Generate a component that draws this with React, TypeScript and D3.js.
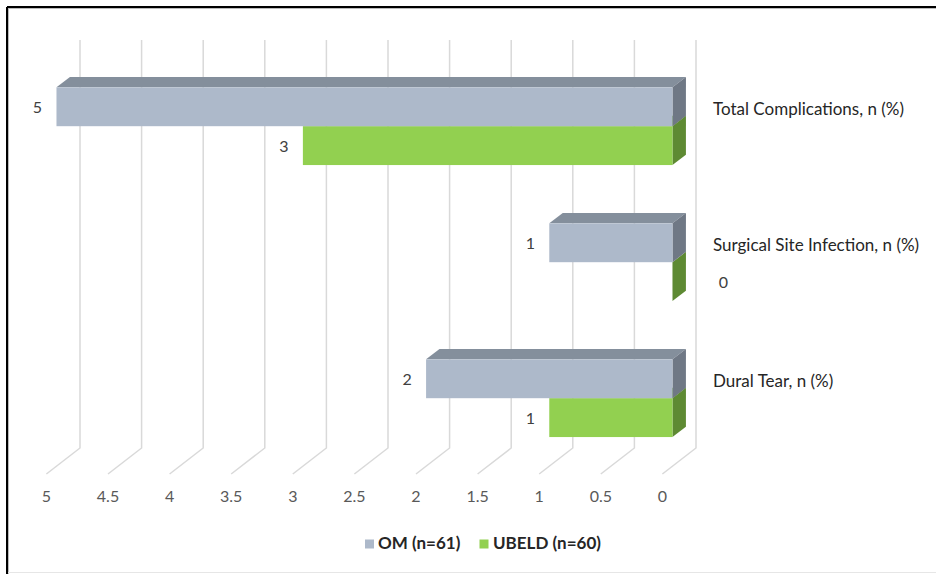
import React from "react";
import * as d3 from "d3";

const categories = ["Total Complications, n (%)", "Surgical Site Infection, n (%)", "Dural Tear, n (%)"];
const seriesNames = ["OM (n=61)", "UBELD (n=60)"];
const omValues = [5, 1, 2];
const ubeldValues = [3, 0, 1];
const tickValues = [5, 4.5, 4, 3.5, 3, 2.5, 2, 1.5, 1, 0.5, 0];

const W = 936;
const H = 574;
const FONT = "Lato, 'Open Sans', sans-serif";

// 3D depth geometry
const DEPTH_X = -33.6;
const DEPTH_Y = 26;
const BAR_BACK = 0.3;
const BAR_FRONT = 0.7;

const colors = [
  { front: "#ADB9CA", top: "#848F9C", side: "#6F7885" },
  { front: "#92D050", top: "#6E9E3C", side: "#5E8A33" },
];

export default function App() {
  const x = d3.scaleLinear().domain([0, 5]).range([696, 80]);
  const y = d3.scaleBand<string>().domain(categories).range([40, 448]).padding(0);
  const ys = d3.scaleBand<string>().domain(seriesNames).range([0, y.bandwidth()]).paddingInner(0).paddingOuter(0.75);
  const seriesValues = [omValues, ubeldValues];

  const fx = BAR_FRONT * DEPTH_X; // front face offset
  const fy = BAR_FRONT * DEPTH_Y;
  const bx = BAR_BACK * DEPTH_X;
  const by = BAR_BACK * DEPTH_Y;
  const dx = bx - fx;
  const dy = by - fy;

  const bars: React.ReactNode[] = [];
  const labels: React.ReactNode[] = [];
  // draw second series first so the first covers hidden faces
  [1, 0].forEach((si) => {
    categories.forEach((cat, ci) => {
      const v = seriesValues[si][ci];
      const x0 = x(0) + fx;
      const x1 = x(v) + fx;
      const yt = (y(cat) as number) + (ys(seriesNames[si]) as number) + fy;
      const yb = yt + ys.bandwidth();
      const c = colors[si];
      bars.push(
        <g key={`b${si}-${ci}`}>
          {v > 0 && (
            <polygon
              points={`${x1},${yt} ${x0},${yt} ${x0 + dx},${yt + dy} ${x1 + dx},${yt + dy}`}
              fill={c.top}
            />
          )}
          <polygon
            points={`${x0},${yt} ${x0 + dx},${yt + dy} ${x0 + dx},${yb + dy} ${x0},${yb}`}
            fill={c.side}
          />
          {v > 0 && <rect x={x1} y={yt} width={x0 - x1} height={yb - yt} fill={c.front} />}
        </g>
      );
      const lx = v > 0 ? x1 - 19 : x0 + 51;
      labels.push(
        <text
          key={`l${si}-${ci}`}
          x={lx}
          y={(yt + yb) / 2 + 2.5}
          textAnchor="middle"
          dominantBaseline="middle"
          fontSize={16}
          fill="#404040"
          fontFamily={FONT}
        >
          {v}
        </text>
      );
    });
  });

  return (
    <svg
      width={W}
      height={H}
      style={{ position: "absolute", left: 0, top: 0, background: "#fff" }}
    >
      <rect x={0} y={0} width={W} height={H} fill="#fff" />
      {/* frame */}
      <line x1={7} y1={7} x2={W} y2={7} stroke="#000" strokeWidth={2} />
      <line x1={7} y1={7} x2={7} y2={H} stroke="#000" strokeWidth={2} />
      <line x1={8} y1={8.5} x2={W} y2={8.5} stroke="#bbb" strokeWidth={1} />
      <line x1={8.5} y1={8} x2={8.5} y2={H} stroke="#bbb" strokeWidth={1} />
      <line x1={8} y1={572.5} x2={W} y2={572.5} stroke="#e6e6e6" strokeWidth={1} />

      {/* gridlines */}
      {tickValues.map((t) => (
        <polyline
          key={`g${t}`}
          points={`${x(t)},40 ${x(t)},448 ${x(t) + DEPTH_X},${448 + DEPTH_Y}`}
          fill="none"
          stroke="#D9D9D9"
          strokeWidth={1.5}
        />
      ))}
      {tickValues.map((t) => (
        <text
          key={`t${t}`}
          x={x(t) + DEPTH_X}
          y={497.5}
          textAnchor="middle"
          dominantBaseline="middle"
          fontSize={16}
          fill="#595959"
          fontFamily={FONT}
        >
          {t}
        </text>
      ))}

      {bars}
      {labels}

      {categories.map((cat) => (
        <text
          key={cat}
          x={713}
          y={(y(cat) as number) + y.bandwidth() / 2 + 2.5}
          dominantBaseline="middle"
          fontSize={17}
          fill="#262626"
          fontFamily={FONT}
        >
          {cat}
        </text>
      ))}

      {/* legend */}
      <g fontFamily={FONT} fontSize={17} fontWeight="bold" fill="#262626">
        <rect x={365} y={539.5} width={9} height={9} fill={colors[0].front} />
        <text x={378} y={544.5} dominantBaseline="middle">
          {seriesNames[0]}
        </text>
        <rect x={479.5} y={539.5} width={9} height={9} fill={colors[1].front} />
        <text x={493} y={544.5} dominantBaseline="middle">
          {seriesNames[1]}
        </text>
      </g>
    </svg>
  );
}
